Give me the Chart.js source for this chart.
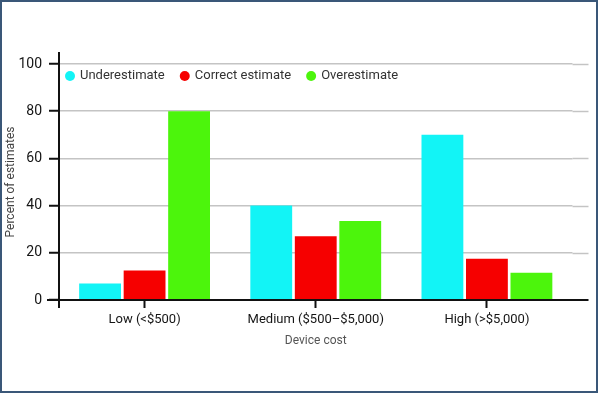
<!DOCTYPE html>
<html>
<head>
<meta charset="utf-8">
<script src="https://cdn.jsdelivr.net/npm/chart.js@4/dist/chart.umd.min.js"></script>
<style>
    body { margin: 0; background: #ffffff; }
    #wrap { position: relative; width: 600px; height: 393px; }
    #frame {
        position: absolute; left: 0; top: 0; width: 598px; height: 393px;
        box-sizing: border-box; border: 2px solid #3a5778; pointer-events: none;
    }
</style>
</head>
<body>
<div id="wrap">
    <canvas id="chart" width="600" height="393"></canvas>
    <div id="frame"></div>
</div>
<script>
// =========================================================
// DATA
// =========================================================

    const categories = ["Low (<$500)", "Medium ($500\u2013$5,000)", "High (>$5,000)"];
    const underestimate = [7, 40, 70];
    const correctEstimate = [12.5, 27, 17.5];
    const overestimate = [80, 33.5, 11.5];
    const yTicks = [0, 20, 40, 60, 80, 100];

    const fontFamily = "Roboto, 'Noto Sans', sans-serif";

// =========================================================
// PLUGINS
// =========================================================

    // gridlines and axes in the original run a bit past the plot area
    const extendAxes = {
        id: "extendAxes",
        beforeDatasetsDraw(chart) {
            const ctx = chart.ctx;
            const area = chart.chartArea;
            const yScale = chart.scales.y;
            ctx.save();
            ctx.strokeStyle = "#c4c4c4";
            ctx.lineWidth = 1.5;
            yTicks.forEach(function (value) {
                if (value === 0) return;
                const y = Math.round(yScale.getPixelForValue(value)) + 0.5;
                ctx.beginPath();
                ctx.moveTo(area.right, y);
                ctx.lineTo(area.right + 16, y);
                ctx.stroke();
            });
            ctx.restore();
        },
        afterDatasetsDraw(chart) {
            const ctx = chart.ctx;
            const area = chart.chartArea;
            const base = chart.scales.y.getPixelForValue(0);
            ctx.save();
            ctx.strokeStyle = "#111111";
            ctx.lineWidth = 2;
            ctx.beginPath();
            ctx.moveTo(area.left - 12, base);
            ctx.lineTo(area.right + 16, base);
            ctx.stroke();
            ctx.beginPath();
            ctx.moveTo(area.left, area.top - 12);
            ctx.lineTo(area.left, base + 8);
            ctx.stroke();
            ctx.restore();
        }
    };

    // legend sits inside the plot area, in one row under the 100 line
    const insideLegend = {
        id: "insideLegend",
        afterDraw(chart) {
            const ctx = chart.ctx;
            const area = chart.chartArea;
            let x = area.left + 11;
            const y = area.top + 12;
            ctx.save();
            ctx.font = "13px " + fontFamily;
            ctx.textBaseline = "middle";
            ctx.textAlign = "left";
            chart.data.datasets.forEach(function (dataset) {
                ctx.fillStyle = dataset.backgroundColor;
                ctx.beginPath();
                ctx.arc(x, y, 5, 0, Math.PI * 2);
                ctx.fill();
                ctx.fillStyle = "#333333";
                ctx.fillText(dataset.label, x + 10, y);
                x += 10 + ctx.measureText(dataset.label).width + 20;
            });
            ctx.restore();
        }
    };

// =========================================================
// CHART
// =========================================================

    new Chart(document.getElementById("chart"), {
        type: "bar",
        data: {
            labels: categories,
            datasets: [
                { label: "Underestimate", data: underestimate, backgroundColor: "#12f4f6" },
                { label: "Correct estimate", data: correctEstimate, backgroundColor: "#f60000" },
                { label: "Overestimate", data: overestimate, backgroundColor: "#4cf50c" }
            ]
        },
        options: {
            responsive: false,
            animation: false,
            categoryPercentage: 0.78,
            barPercentage: 0.94,
            layout: {
                padding: { top: 64, right: 27.5, bottom: 45, left: 0 }
            },
            plugins: {
                legend: { display: false },
                tooltip: { enabled: false }
            },
            scales: {
                x: {
                    grid: {
                        display: true,
                        drawOnChartArea: false,
                        drawTicks: true,
                        tickLength: 8,
                        tickColor: "#111111",
                        tickWidth: 2,
                        offset: false
                    },
                    border: { display: false },
                    ticks: {
                        color: "#151515",
                        padding: 4,
                        font: { family: fontFamily, size: 13 }
                    },
                    title: {
                        display: true,
                        text: "Device cost",
                        color: "#555555",
                        padding: { top: 2, bottom: 0 },
                        font: { family: fontFamily, size: 12 }
                    }
                },
                y: {
                    min: 0,
                    max: 100,
                    afterFit(scale) {
                        scale.width = 59;
                    },
                    afterBuildTicks(scale) {
                        scale.ticks = yTicks.map(v => ({ value: v }));
                    },
                    grid: {
                        color: "#c4c4c4",
                        lineWidth: 1.5,
                        tickLength: 10,
                        tickColor: "#111111",
                        tickWidth: 2
                    },
                    border: { display: false },
                    ticks: {
                        color: "#151515",
                        padding: 7,
                        font: { family: fontFamily, size: 14 }
                    },
                    title: {
                        display: true,
                        text: "Percent of estimates",
                        color: "#444444",
                        padding: { top: 4, bottom: 0 },
                        font: { family: fontFamily, size: 12 }
                    }
                }
            }
        },
        plugins: [extendAxes, insideLegend]
    });
</script>
</body>
</html>
